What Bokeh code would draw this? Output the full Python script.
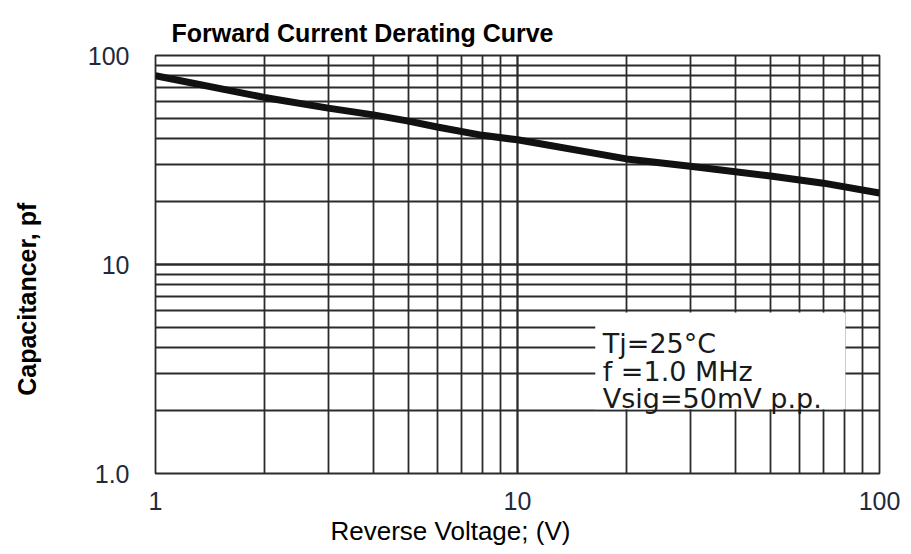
from bokeh.plotting import figure
from bokeh.models import Title, BoxAnnotation, LogTicker, ColumnDataSource
from bokeh.core.properties import value
from bokeh.embed import file_html
from bokeh.resources import INLINE

# Data
voltage = [1, 2, 3, 4, 5, 6, 8, 10, 20, 30, 50, 70, 100]
capacitance = [80, 63, 56, 52, 48.5, 45.5, 41.5, 39.5, 32, 29.5, 26.5, 24.5, 22]
x_ticks = [1, 10, 100]
y_ticks = [1, 10, 100]
y_tick_labels = {1: "1.0", 10: "10", 100: "100"}
note_lines = ["Tj=25°C", "f =1.0 MHz", "Vsig=50mV p.p."]
note_x = [17.2, 17.2, 17.2]
note_y = [4.19, 3.08, 2.29]
box_x = [16.4, 80.5]
box_y = [2.03, 5.9]

FONT = "Liberation Sans"
GRID = "#2b2b2b"
NBSP = "\u00a0"

p = figure(width=903, height=546, x_axis_type="log", y_axis_type="log",
           x_range=(1, 100), y_range=(1, 100),
           output_backend="svg", toolbar_location=None,
           min_border_left=155, min_border_right=24,
           min_border_top=55, min_border_bottom=73)

p.title.text = "Forward Current Derating Curve"
p.title.text_font = FONT
p.title.text_font_size = "25px"
p.title.text_font_style = "bold"
p.title.align = "left"
p.title.offset = 16
p.title.standoff = 17
p.title.text_color = "#000000"

p.outline_line_color = GRID
p.outline_line_width = 1.8
p.background_fill_color = "white"
p.border_fill_color = "white"

for ax in (p.xaxis[0], p.yaxis[0]):
    ax.axis_line_color = None
    ax.major_tick_line_color = None
    ax.minor_tick_line_color = None
    ax.major_tick_out = 0
    ax.minor_tick_out = 0
    ax.major_label_text_font = FONT
    ax.major_label_text_font_size = "25px"
    ax.major_label_text_color = "#1f2a3a"

p.xaxis[0].ticker = LogTicker(desired_num_ticks=3, num_minor_ticks=10)
p.yaxis[0].ticker = LogTicker(desired_num_ticks=3, num_minor_ticks=10)
p.xaxis[0].major_label_standoff = 18
p.yaxis[0].major_label_standoff = 26
p.yaxis[0].major_label_overrides = y_tick_labels
p.xaxis[0].major_label_overrides = {v: str(v) for v in x_ticks}

# y axis title: padded so that it sits lower along the axis, as in the reference
p.yaxis[0].axis_label = "Capacitancer, pf" + NBSP * 10
p.yaxis[0].axis_label_text_font = FONT
p.yaxis[0].axis_label_text_font_size = "25px"
p.yaxis[0].axis_label_text_font_style = "bold"
p.yaxis[0].axis_label_text_color = "#000000"
p.yaxis[0].axis_label_standoff = 44

for g in (p.xgrid[0], p.ygrid[0]):
    g.grid_line_color = GRID
    g.grid_line_width = 1.8
    g.grid_line_alpha = 1.0
    g.minor_grid_line_color = GRID
    g.minor_grid_line_width = 1.8
    g.minor_grid_line_alpha = 1.0

xt = Title(text="Reverse Voltage; (V)", align="left", offset=175, standoff=2,
           text_font=FONT, text_font_size="26px", text_font_style="normal",
           text_color="#000000")
p.add_layout(xt, "below")

src = ColumnDataSource(dict(v=voltage, c=capacitance))
p.line("v", "c", source=src, line_color="#111111", line_width=7)

box = BoxAnnotation(left=box_x[0], right=box_x[1], bottom=box_y[0], top=box_y[1],
                    fill_color="white", fill_alpha=1.0, line_color=None)
p.add_layout(box)

nsrc = ColumnDataSource(dict(x=note_x, y=note_y, t=note_lines))
p.text("x", "y", text="t", source=nsrc, text_font=value("DejaVu Sans"),
       text_font_size="27px", text_color="#1a1a1a",
       text_baseline="alphabetic", text_align="left", level="overlay")

open("out.html", "w").write(file_html(p, INLINE))
